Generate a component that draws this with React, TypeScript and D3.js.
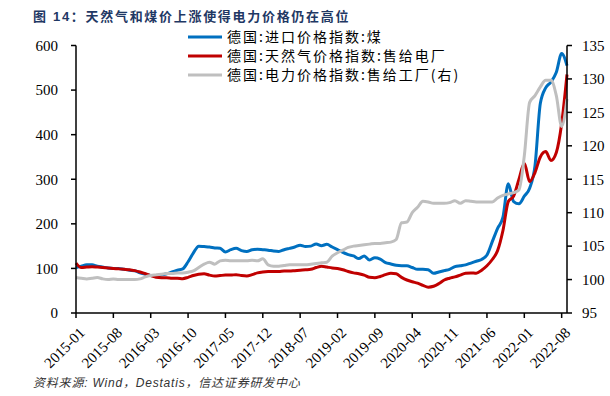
import * as d3 from "d3";

// monthly, 2015-01 .. 2022-09
const months = d3
  .timeMonth.range(new Date(2015, 0, 1), new Date(2022, 9, 1))
  .map((d) => d3.timeFormat("%Y-%m")(d));

// 德国:进口价格指数:煤 (left axis)
const coalImport = [
  102, 105, 108, 108, 105, 103, 101, 100, 100, 98,
  96, 95, 90, 87, 84, 83, 85, 88, 92, 96,
  99, 115, 135, 150, 149, 148, 146, 145, 137, 142,
  145, 140, 138, 142, 143, 142, 141, 139, 138, 142,
  145, 148, 152, 149, 150, 155, 151, 154, 148, 142,
  136, 131, 128, 122, 128, 119, 124, 121, 113, 110,
  107, 106, 106, 102, 98, 98, 97, 89, 92, 95,
  98, 104, 106, 108, 112, 116, 120, 130, 160, 190,
  215, 290, 250, 245, 262, 280, 330, 470, 505, 518,
  540, 582, 555,
];

// 德国:天然气价格指数:售给电厂 (left axis)
const gasToPower = [
  112, 102, 103, 104, 103, 102, 101, 100, 99, 98,
  97, 95, 92, 88, 84, 80, 79, 79, 78, 78,
  77, 80, 84, 87, 88, 85, 83, 84, 85, 85,
  86, 84, 83, 86, 90, 92, 93, 93, 93, 94,
  94, 95, 96, 97, 98, 102, 105, 103, 101, 100,
  97, 93, 90, 88, 85, 80, 79, 82, 86, 89,
  88, 80, 74, 70, 67, 62, 58, 60, 66, 74,
  78, 81, 85, 89, 90, 89, 96, 106, 120, 140,
  185, 250, 262, 300, 336, 295, 315, 350, 362, 342,
  360, 425, 535,
];

// 德国:电力价格指数:售给工厂 (right axis)
const powerToIndustry = [
  100.3, 100.2, 100.1, 100.2, 100.3, 100.1, 100.0, 100.1, 100.0, 100.0,
  100.0, 100.0, 100.1, 100.4, 100.6, 100.7, 100.8, 100.9, 100.9, 101.0,
  101.0, 101.1, 101.3, 101.8, 102.3, 102.6, 102.3, 102.8, 102.9, 102.8,
  102.8, 102.8, 102.8, 102.9, 102.8, 103.1, 102.2, 102.0, 102.0, 102.1,
  102.2, 102.2, 102.2, 102.2, 102.3, 102.4, 102.5, 102.6, 103.5, 104.0,
  104.4, 104.8, 105.0, 105.1, 105.2, 105.3, 105.4, 105.4, 105.5, 105.6,
  106.0, 108.5, 108.6, 110.0, 110.8, 111.7, 111.6, 111.4, 111.4, 111.4,
  111.5, 111.8, 111.4, 111.8, 111.7, 111.6, 111.6, 111.6, 111.6, 112.2,
  112.6, 112.8, 113.0, 113.4, 118.5, 126.5, 127.5, 128.8, 129.8, 129.8,
  127.5, 122.9, 127.0,
];

const xTickLabels = [
  "2015-01", "2015-08", "2016-03", "2016-10", "2017-05", "2017-12", "2018-07",
  "2019-02", "2019-09", "2020-04", "2020-11", "2021-06", "2022-01", "2022-08",
];
const leftTicks = [0, 100, 200, 300, 400, 500, 600];
const rightTicks = [95, 100, 105, 110, 115, 120, 125, 130, 135];

const seriesNames = [
  "德国:进口价格指数:煤",
  "德国:天然气价格指数:售给电厂",
  "德国:电力价格指数:售给工厂(右)",
];
const seriesColors = ["#0070C0", "#C00000", "#BFBFBF"];

const serif = "'Liberation Serif', 'Times New Roman', serif";
const cjk = "'Noto Sans CJK SC', sans-serif";

export default function App() {
  const left = 76;
  const right = 567;
  const top = 45.5;
  const bottom = 313;

  const x = d3.scalePoint<string>().domain(months).range([left, right]);
  const yL = d3.scaleLinear().domain([0, 600]).range([bottom, top]);
  const yR = d3.scaleLinear().domain([95, 135]).range([bottom, top]);

  const lineL = d3
    .line<number>()
    .x((_, i) => x(months[i]) as number)
    .y((d) => yL(d))
    .curve(d3.curveMonotoneX);
  const lineR = d3
    .line<number>()
    .x((_, i) => x(months[i]) as number)
    .y((d) => yR(d))
    .curve(d3.curveMonotoneX);

  const paths = [
    lineL(coalImport),
    lineL(gasToPower),
    lineR(powerToIndustry),
  ];

  return (
    <svg
      width={610}
      height={396}
      style={{ position: "absolute", left: 0, top: 0, background: "#fff" }}
    >
      {/* title */}
      <text
        x={33}
        y={21}
        fontSize={13}
        fontWeight="bold"
        fill="#1F3864"
        letterSpacing={1.7}
        fontFamily={"'Liberation Sans', " + cjk}
      >
        图 14：天然气和煤价上涨使得电力价格仍在高位
      </text>

      {/* series */}
      {paths.map((d, i) => (
        <path
          key={i}
          d={d ?? ""}
          fill="none"
          stroke={seriesColors[i]}
          strokeWidth={3}
          strokeLinejoin="round"
        />
      ))}

      {/* axes */}
      <g stroke="#000" strokeWidth={1.5} fill="none">
        <line x1={left} x2={left} y1={top} y2={bottom} />
        <line x1={right} x2={right} y1={top} y2={bottom} />
        <line x1={left} x2={right} y1={bottom} y2={bottom} />
        {leftTicks.map((t) => (
          <line key={"l" + t} x1={left - 5} x2={left} y1={yL(t)} y2={yL(t)} />
        ))}
        {rightTicks.map((t) => (
          <line key={"r" + t} x1={right} x2={right + 5} y1={yR(t)} y2={yR(t)} />
        ))}
        {xTickLabels.map((t) => (
          <line
            key={"x" + t}
            x1={x(t)}
            x2={x(t)}
            y1={bottom}
            y2={bottom + 5}
          />
        ))}
      </g>

      <g fontFamily={serif} fontSize={15} fill="#000">
        {leftTicks.map((t) => (
          <text key={t} x={left - 18} y={yL(t)} dy="0.35em" textAnchor="end">
            {t}
          </text>
        ))}
        {rightTicks.map((t) => (
          <text key={t} x={right + 15} y={yR(t)} dy="0.35em">
            {t}
          </text>
        ))}
        {xTickLabels.map((t) => (
          <text
            key={t}
            transform={`translate(${(x(t) as number) + 6},${bottom + 17}) rotate(-45)`}
            textAnchor="end"
            dy="0.35em"
          >
            {t}
          </text>
        ))}
      </g>

      {/* legend */}
      <g fontFamily={cjk} fontSize={14} letterSpacing={2} fill="#000">
        {seriesNames.map((name, i) => (
          <g key={name} transform={`translate(188,${37 + i * 19})`}>
            <line x1={0} x2={34} y1={0} y2={0} stroke={seriesColors[i]} strokeWidth={3} />
            <text x={39} y={0} dy="0.35em">
              {name}
            </text>
          </g>
        ))}
      </g>

      {/* source */}
      <text
        x={33}
        y={387}
        fontSize={12}
        fontStyle="italic"
        fill="#333"
        letterSpacing={0.8}
        fontFamily={"'Liberation Sans', " + cjk}
      >
        资料来源: Wind，Destatis，信达证券研发中心
      </text>
    </svg>
  );
}
